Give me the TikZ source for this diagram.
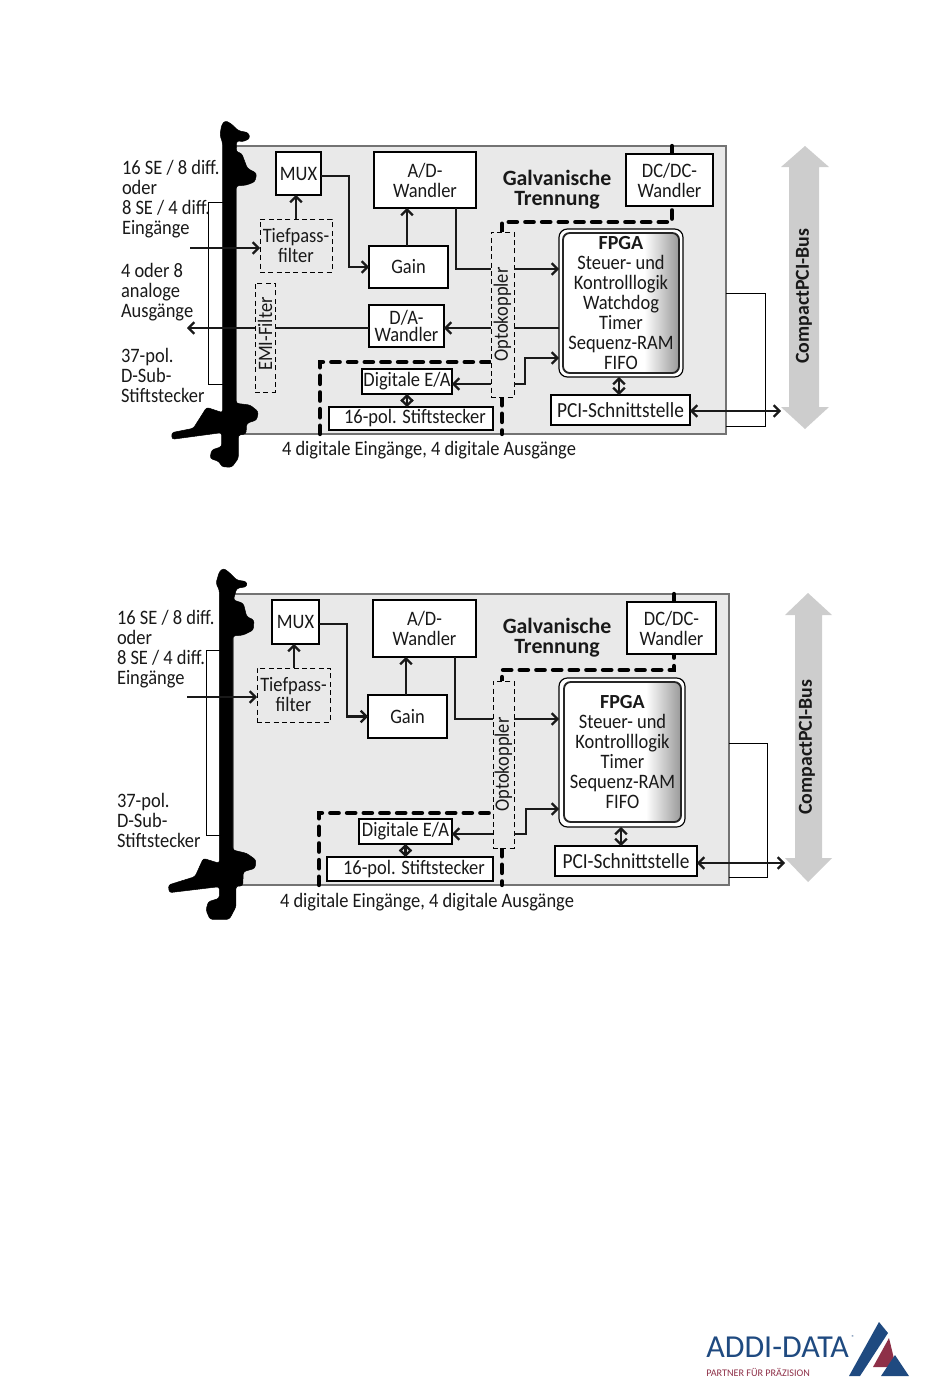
\documentclass[tikz,border=0pt]{standalone}
\usepackage{fontspec}
\setmainfont[FakeStretch=0.9]{Carlito}
\newfontfamily\logofont{Carlito}
\usetikzlibrary{arrows.meta}
\definecolor{panelgray}{HTML}{E9E9E9}
\definecolor{busgray}{HTML}{CDCDCD}
\definecolor{logoblue}{HTML}{1F4A80}
\definecolor{logored}{HTML}{8E3048}
\pgfdeclarehorizontalshading{fpgashade}{100bp}{color(0bp)=(white); color(60bp)=(white); color(75bp)=(black!40); color(100bp)=(black!40)}
\newcommand\bx[7]{%
  \pgfmathsetmacro\bw{(#5-#3)*0.6}\pgfmathsetmacro\bh{(#6-#4)*0.6}%
  \pgfmathsetmacro\cx{(#3+#5)/2}\pgfmathsetmacro\cy{(#4+#6)/2}%
  \node[#1,minimum width=\bw pt,minimum height=\bh pt] (#2) at (\cx,\cy) {#7};}
\newcommand\hd[1]{{\logofont\bfseries\fontsize{12}{12}\selectfont #1}}
\tikzset{
  txt/.style={font=\fontsize{12.3}{12}\selectfont,inner sep=0pt,outer sep=0pt,align=center,text=black!90},
  lbl/.style={txt,align=left,anchor=north west},
  solidbox/.style={txt,draw=black,fill=white,line width=0.7pt},
  dashbox/.style={txt,draw=black,fill=panelgray,line width=0.6pt,dash pattern=on 3pt off 2pt},
  ghostbox/.style={inner sep=0pt,outer sep=0pt,draw=black,fill=white,line width=0.7pt,rounded corners=5pt},
  fpgabox/.style={txt,draw=black!85,line width=1.1pt,rounded corners=4pt,shading=fpgashade},
  conn/.style={line width=1.4pt,draw=black!90},
  arr/.style={conn,-{Straight Barb[length=3.4pt,width=7pt,line width=1.4pt]}},
  darr/.style={conn,{Straight Barb[length=3.4pt,width=7pt,line width=1.4pt]}-{Straight Barb[length=3.4pt,width=7pt,line width=1.4pt]}},
  thin/.style={line width=0.6pt,draw=black},
  isol/.style={line width=2.6pt,draw=black,dash pattern=on 5pt off 5pt,line cap=round},
  panel/.style={fill=panelgray,draw=black!55,line width=0.7pt},
  blackpart/.style={fill=black,draw=black,line width=0.3pt,rounded corners=1.5pt},
  busarrow/.style={fill=busgray,draw=none},
  bold/.style={font=\logofont\fontsize{13.1}{12}\selectfont\bfseries},
  buslabel/.style={font=\logofont\fontsize{11.9}{12}\selectfont\bfseries},
  pcitext/.style={font=\fontsize{12.9}{12}\selectfont},
}
\begin{document}
\begin{tikzpicture}[x=0.6pt,y=-0.6pt]
\useasboundingbox (0,0) rectangle (950,1397);

%% ---------- TOP DIAGRAM ----------
\draw[panel] (236,146) rectangle (726,434);
\draw[thin] (726,293) -- (765,293) -- (765,426) -- (726,426);
\path[busarrow] (805,146) -- (829,167) -- (819,167) -- (819,407) -- (829,407) -- (805,429) -- (781,407) -- (789,407) -- (789,167) -- (781,167) -- cycle;
\node[txt,rotate=90,buslabel] (busa) at (804,296) {CompactPCI-Bus};

\begin{scope}[shift={(110,110)},x=0.2pt,y=-0.2pt]
\path[blackpart] (345,32) -- (362,40) -- (385,62) -- (415,68) -- (420,85) -- (400,95) -- (380,92) -- (378,125) -- (395,130) -- (412,175) -- (440,190) -- (435,215) -- (410,225) -- (378,228) -- (378,880) -- (420,885) -- (445,905) -- (440,930) -- (410,940) -- (408,972) -- (385,975) -- (385,1045) -- (365,1072) -- (335,1070) -- (328,1055) -- (300,1045) -- (305,1020) -- (335,1010) -- (335,968) -- (186,988) -- (185,968) -- (250,955) -- (290,892) -- (338,908) -- (338,100) -- (330,75) -- (335,45) -- cycle;
\end{scope}
\draw[thin] (223,202) -- (208.5,202) -- (208.5,384) -- (223,384);

\node[lbl] (l1a) at (122,160) {16 SE / 8 diff.\\oder\\8 SE / 4 diff.\\Eingänge};
\node[lbl] (l2a) at (121,263) {4 oder 8\\analoge\\Ausgänge};
\node[lbl] (l3a) at (121,348) {37-pol.\\D-Sub-\\Stiftstecker};
\node[txt,anchor=west] (l4a) at (282,450) {4 digitale Eingänge, 4 digitale Ausgänge};
\node[txt,bold] (gta) at (557,190) {Galvanische\\Trennung};

\coordinate (ia) at (190,248);
\coordinate (oa) at (187,328);
\coordinate (xa) at (456,269);
\coordinate (ya) at (502,222);
\coordinate (za) at (672,222);
\coordinate (ta) at (672,146);
\coordinate (ba) at (502,434);
\coordinate (ca) at (320,434);
\coordinate (da) at (320,362);
\coordinate (ea) at (525,384);
\coordinate (fa) at (525,358);
\coordinate (ra) at (781,411);
\coordinate (ma) at (349,176);
\coordinate (na) at (296,200);
\coordinate (ga) at (407,230);
\coordinate (qa) at (619,386);

\bx{dashbox}{emia}{255}{283}{275}{392}{}
\bx{solidbox}{daa}{369}{305}{444}{347}{D/A-\\[-2pt]Wandler}
\draw[isol] (ca) -- (da) -- (491,362);
\draw[isol] (502,397) -- (ba);
\draw[isol] (502,232) -- (ya) -- (za) -- (672,207);
\draw[isol] (ta) -- (672,154);
\bx{solidbox}{muxa}{276}{152}{321}{195}{MUX}
\bx{solidbox}{ada}{374}{152}{476}{208}{A/D-\\Wandler}
\bx{dashbox}{tpa}{260}{219}{332}{272}{Tiefpass-\\filter}
\bx{solidbox}{gaina}{369}{246}{448}{288}{Gain}
\bx{solidbox}{eaa}{362}{369}{452}{394}{Digitale E/A}
\bx{solidbox}{spa}{329}{407}{493}{430}{\hspace{4.8pt}16-pol. Stiftstecker}
\bx{solidbox}{dca}{626}{154}{713}{206}{DC/DC-\\Wandler}
\bx{ghostbox}{fpoa}{559}{229}{683}{377}{}
\bx{fpgabox}{fpa}{563}{233}{679}{373}{\hd{FPGA}\\Steuer- und\\Kontrolllogik\\Watchdog\\Timer\\Sequenz-RAM\\FIFO}
\bx{solidbox,pcitext}{pcia}{551}{395}{690}{425}{PCI-Schnittstelle}
\bx{dashbox}{opa}{491}{232}{514}{397}{}
\node[txt,rotate=90] (optxa) at (opa) {Optokoppler};
\node[txt,rotate=90] (emtxa) at (265,334) {EMI-Filter};

\draw[arr] (muxa.east |- ma) -- (ma) |- (gaina.west);
\draw[arr] (tpa.north -| na) -- (muxa.south -| na);
\draw[arr] (gaina.north -| ga) -- (ada.south -| ga);
\draw[conn] (ada.south -| xa) |- (opa.west |- xa);
\draw[arr] (opa.east |- xa) -- (fpoa.west |- xa);
\draw[conn] (fpoa.west |- oa) -- (opa.east |- oa);
\draw[arr] (opa.west |- oa) -- (daa.east |- oa);
\draw[conn] (daa.west |- oa) -- (emia.east |- oa);
\draw[arr] (emia.west |- oa) -- (oa);
\draw[arr] (ia) -- (tpa.west |- ia);
\draw[arr] (opa.west |- ea) -- (eaa.east |- ea);
\draw[arr] (opa.east |- ea) -- (ea) -- (fa) -- (fpoa.west |- fa);
\draw[darr] (eaa.south) -- (spa.north -| eaa.south);
\draw[darr] (fpoa.south -| qa) -- (pcia.north -| qa);
\draw[darr] (pcia.east |- ra) -- (ra);

%% ---------- BOTTOM DIAGRAM ----------
\draw[panel] (233,594) rectangle (729,885);
\draw[thin] (729,743) -- (767,743) -- (767,877) -- (729,877);
\path[busarrow] (808,593) -- (832,615) -- (822,615) -- (822,858) -- (832,858) -- (808,882) -- (785,858) -- (795,858) -- (795,615) -- (785,615) -- cycle;
\node[txt,rotate=90,buslabel] (busb) at (807,747) {CompactPCI-Bus};

\begin{scope}[shift={(110,560)},x=0.2pt,y=-0.2pt]
\path[blackpart] (340,25) -- (355,35) -- (380,60) -- (410,65) -- (410,80) -- (380,85) -- (370,120) -- (400,130) -- (410,170) -- (432,180) -- (430,210) -- (400,225) -- (368,228) -- (368,870) -- (410,880) -- (438,900) -- (435,925) -- (400,935) -- (398,978) -- (378,978) -- (378,1040) -- (358,1078) -- (300,1078) -- (288,1050) -- (295,1025) -- (328,1015) -- (328,980) -- (178,998) -- (175,975) -- (255,950) -- (280,895) -- (328,910) -- (328,90) -- (318,70) -- (328,35) -- cycle;
\end{scope}
\draw[thin] (220,650) -- (206,650) -- (206,835) -- (220,835);

\node[lbl] (l1b) at (117,610) {16 SE / 8 diff.\\oder\\8 SE / 4 diff.\\Eingänge};
\node[lbl] (l3b) at (117,793) {37-pol.\\D-Sub-\\Stiftstecker};
\node[txt,anchor=west] (l4b) at (280,902) {4 digitale Eingänge, 4 digitale Ausgänge};
\node[txt,bold] (gtb) at (557,638) {Galvanische\\Trennung};

\coordinate (ib) at (187,697);
\coordinate (xb) at (455,719);
\coordinate (yb) at (503,670);
\coordinate (zb) at (674,670);
\coordinate (tb) at (674,594);
\coordinate (bb) at (502,885);
\coordinate (cb) at (319,885);
\coordinate (db) at (319,813);
\coordinate (eb) at (526,834);
\coordinate (fb) at (526,809);
\coordinate (rb) at (785,863);
\coordinate (mb) at (347,624);
\coordinate (nb) at (294,650);
\coordinate (gb) at (406,680);
\coordinate (qb) at (621,836);

\draw[isol] (cb) -- (db) -- (493,813);
\draw[isol] (502,848) -- (bb);
\draw[isol] (502,681) -- (502,677);
\draw[isol] (yb) -- (zb) -- (674,655);
\draw[isol] (tb) -- (674,602);
\bx{solidbox}{muxb}{272}{600}{319}{644}{MUX}
\bx{solidbox}{adb}{373}{600}{476}{657}{A/D-\\Wandler}
\bx{dashbox}{tpb}{257}{668}{330}{722}{Tiefpass-\\filter}
\bx{solidbox}{gainb}{368}{695}{447}{738}{Gain}
\bx{solidbox}{eab}{359}{819}{452}{844}{Digitale E/A}
\bx{solidbox}{spb}{327}{857}{493}{881}{\hspace{4.8pt}16-pol. Stiftstecker}
\bx{solidbox}{dcb}{627}{602}{716}{654}{DC/DC-\\Wandler}
\bx{ghostbox}{fpob}{559}{678}{685}{827}{}
\bx{fpgabox}{fpb}{564}{682}{681}{822}{\hd{FPGA}\\Steuer- und\\Kontrolllogik\\Timer\\Sequenz-RAM\\FIFO}
\bx{solidbox,pcitext}{pcib}{555}{846}{697}{876}{PCI-Schnittstelle}
\bx{dashbox}{opb}{493}{681}{514}{848}{}
\node[txt,rotate=90] (optxb) at (opb) {Optokoppler};

\draw[arr] (muxb.east |- mb) -- (mb) |- (gainb.west);
\draw[arr] (tpb.north -| nb) -- (muxb.south -| nb);
\draw[arr] (gainb.north -| gb) -- (adb.south -| gb);
\draw[conn] (adb.south -| xb) |- (opb.west |- xb);
\draw[arr] (opb.east |- xb) -- (fpob.west |- xb);
\draw[arr] (ib) -- (tpb.west |- ib);
\draw[arr] (opb.west |- eb) -- (eab.east |- eb);
\draw[arr] (opb.east |- eb) -- (eb) -- (fb) -- (fpob.west |- fb);
\draw[darr] (eab.south) -- (spb.north -| eab.south);
\draw[darr] (fpob.south -| qb) -- (pcib.north -| qb);
\draw[darr] (pcib.east |- rb) -- (rb);

%% ---------- LOGO ----------
\node[inner sep=0pt,anchor=west,text=logoblue,font=\logofont\fontsize{19.2}{21}\selectfont] (logoa) at (706,1347) {ADDI-DATA};
\node[inner sep=0pt,text=logoblue,font=\logofont\fontsize{3.5}{4}\selectfont] (logor) at (853,1337) {®};
\node[inner sep=0pt,anchor=west,text=logored,font=\logofont\fontsize{6.1}{6}\selectfont] (logob) at (706,1372) {PARTNER FÜR PRÄZISION};
\fill[logoblue] (879,1322) -- (888,1333) -- (860,1376) -- (849,1376) -- cycle;
\fill[logored] (889,1338) -- (896,1367) -- (873,1367) -- cycle;
\fill[logoblue] (895,1355) -- (909,1376) -- (881,1376) -- cycle;
\end{tikzpicture}
\end{document}
